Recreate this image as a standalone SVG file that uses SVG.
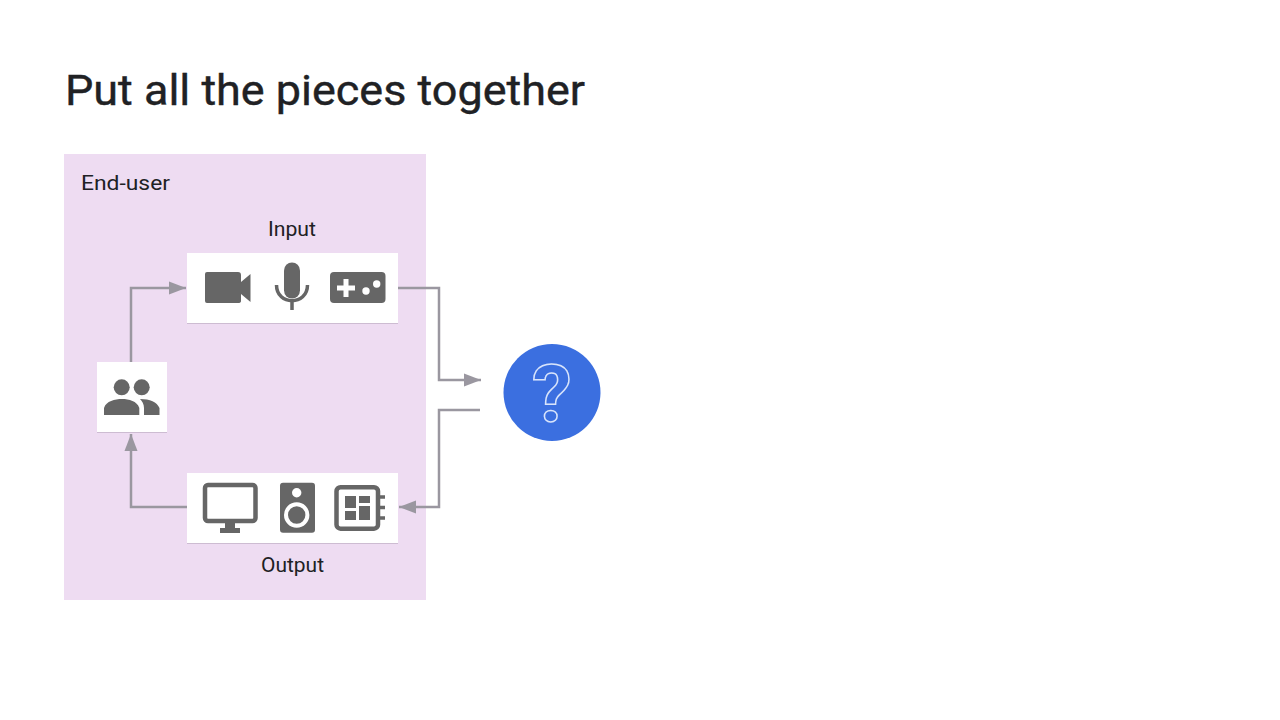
<svg xmlns="http://www.w3.org/2000/svg" width="1280" height="720" viewBox="0 0 1280 720">
<style>
.t{font-family:Roboto,"Liberation Sans",sans-serif;font-size:21px;fill:#202124}
.ic{fill:#666666}
.is{fill:none;stroke:#666666}
.c{fill:none;stroke:#9a97a0;stroke-width:2.500}
.box{fill:#ffffff}
.sh{fill:#cdbcd2}
</style>
<defs>
<marker id="a" markerUnits="userSpaceOnUse" markerWidth="18" markerHeight="16" refX="17" refY="7" orient="auto"><path d="M0 0.500L17 7L0 13.500Z" fill="#9a97a0"/></marker>
</defs>
<rect width="1280" height="720" fill="#ffffff"/>
<text id="title" x="65" y="105" font-family="Roboto,'Liberation Sans',sans-serif" font-size="42" fill="#202124" stroke="#202124" stroke-width="0.400" textLength="520" lengthAdjust="spacingAndGlyphs">Put all the pieces together</text>
<g id="end-user"><rect x="64" y="154" width="362" height="446" fill="#eedcf2"/><text class="t" x="81" y="190" textLength="89" lengthAdjust="spacingAndGlyphs">End-user</text></g>
<g id="connectors">
<path class="c" d="M131 362V288H186" marker-end="url(#a)"/>
<path class="c" d="M398 288H439V380H481" marker-end="url(#a)"/>
<path class="c" d="M480 410H439V507H399" marker-end="url(#a)"/>
<path class="c" d="M187 507H131V434" marker-end="url(#a)"/>
</g>
<g id="input">
<text class="t" x="268" y="236" textLength="48" lengthAdjust="spacingAndGlyphs">Input</text>
<rect class="sh" x="187" y="254" width="211" height="70"/>
<rect class="box" x="187" y="253" width="211" height="70"/>
<path class="ic" d="M207 272H238Q241 272 241 275V282L250.500 274V302L241 294V301Q241 303 238 303H207Q205 303 205 301V274Q205 272 207 272Z"/>
<rect class="ic" x="284" y="262.500" width="16" height="36" rx="8"/>
<path class="is" stroke-width="3.500" d="M276.500 285C276.500 306 307.500 306 307.500 285M292 301V310"/>
<rect class="ic" x="330" y="272" width="55.500" height="31" rx="4"/>
<path d="M337 288H355M346 279V297" stroke="#ffffff" stroke-width="5" fill="none"/>
<circle cx="366" cy="291" r="3.700" fill="#fff"/><circle cx="376.700" cy="284" r="3.700" fill="#fff"/>
</g>
<g id="output">
<text class="t" x="261" y="572" textLength="63" lengthAdjust="spacingAndGlyphs">Output</text>
<rect class="sh" x="187" y="474" width="211" height="70"/>
<rect class="box" x="187" y="473" width="211" height="70"/>
<rect class="is" x="205" y="485" width="50.500" height="36" rx="3" stroke-width="4.500"/>
<path class="ic" d="M225 522H235V528H240V533H220V528H225Z"/>
<rect class="ic" x="280" y="482.700" width="35" height="50" rx="3"/>
<circle cx="296.700" cy="492.700" r="4.700" fill="#fff"/>
<circle cx="296.700" cy="515" r="10.700" fill="#666666" stroke="#fff" stroke-width="4"/>
<rect class="is" x="336.500" y="487.200" width="41.500" height="41.500" rx="4" stroke-width="4.500"/>
<path class="is" stroke-width="3.500" d="M378 497H385M378 507.500H385M378 518H385"/>
<path class="ic" d="M345 496H356V508H345ZM359 496H370V503H359ZM359 506H370V520H359ZM345 511H356V520H345Z"/>
</g>
<g id="users">
<rect class="sh" x="97" y="363" width="70" height="70"/>
<rect class="box" x="97" y="362" width="70" height="70"/>
<circle class="ic" cx="121.700" cy="387.300" r="8"/>
<circle class="ic" cx="141.700" cy="387.300" r="8"/>
<path class="ic" d="M104 415V408C106 401 115 399 122 399C129 399 137 401 139.300 408V415Z"/>
<path class="ic" d="M140 399C150 399 157 402 159.500 408V415H144V408C144 404 142 401 140 399Z"/>
</g>
<g id="model">
<circle cx="552" cy="392.500" r="48.500" fill="#3b6fe0"/>
<text x="552" y="422" text-anchor="middle" font-family="Roboto,'Liberation Sans',sans-serif" font-size="80" font-weight="700" fill="none" stroke="#d8e4fb" stroke-width="1.500">?</text>
</g>
</svg>
